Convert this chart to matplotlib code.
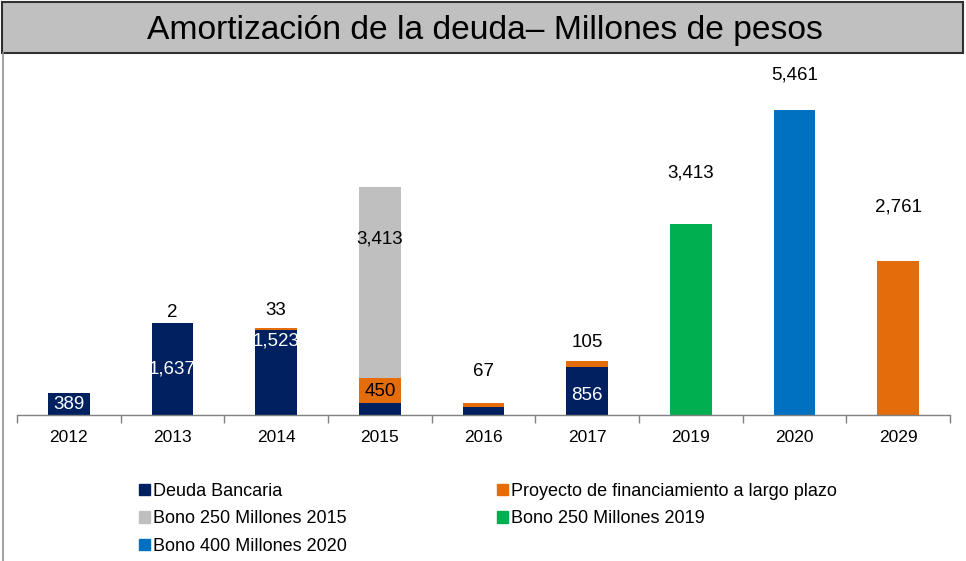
import matplotlib
matplotlib.use("Agg")
import matplotlib.pyplot as plt
from matplotlib.patches import Rectangle
from matplotlib.lines import Line2D
import numpy as np

plt.rcParams['font.family'] = ['Liberation Sans', 'DejaVu Sans']

# ---- data ----
years = ['2012', '2013', '2014', '2015', '2016', '2017', '2019', '2020', '2029']
deuda_bancaria = [389, 1637, 1523, 215, 150, 856, 0, 0, 0]
proyecto = [0, 2, 33, 450, 67, 105, 0, 0, 2761]
bono_2015 = [0, 0, 0, 3413, 0, 0, 0, 0, 0]
bono_2019 = [0, 0, 0, 0, 0, 0, 3413, 0, 0]
bono_2020 = [0, 0, 0, 0, 0, 0, 0, 5461, 0]

series_names = ['Deuda Bancaria', 'Proyecto de financiamiento a largo plazo',
                'Bono 250 Millones 2015', 'Bono 250 Millones 2019',
                'Bono 400 Millones 2020']

# ---- style ----
colors = ['#002060', '#E46C0A', '#BFBFBF', '#00B050', '#0070C0']
W, H = 966, 561
fig = plt.figure(figsize=(W / 100, H / 100), dpi=100)

ax_left, ax_right, ax_bottom, ax_top = 17, 950, 415, 60
ax = fig.add_axes([ax_left / W, 1 - ax_bottom / H, (ax_right - ax_left) / W,
                   (ax_bottom - ax_top) / H])

x = np.arange(len(years))
width = 0.405
all_series = [deuda_bancaria, proyecto, bono_2015, bono_2019, bono_2020]
bottoms = np.zeros(len(years))
bars = []
for vals, col, name in zip(all_series, colors, series_names):
    ax.bar(x, vals, width, bottom=bottoms, color=col, label=name, zorder=2)
    bars.append((np.array(vals, dtype=float), bottoms.copy()))
    bottoms = bottoms + np.array(vals, dtype=float)

ax.set_xlim(-0.5, len(years) - 0.5)
ax.set_ylim(0, 6350)
for s in ['top', 'right', 'left']:
    ax.spines[s].set_visible(False)
ax.spines['bottom'].set_color('#808080')
ax.spines['bottom'].set_linewidth(1.0)
ax.set_yticks([])
ax.set_xticks(x)
ax.set_xticklabels(years, fontsize=12.5)
ax.tick_params(axis='x', length=0, pad=11)
ax.set_xticks(np.arange(-0.5, len(years)), minor=True)
ax.tick_params(axis='x', which='minor', length=6, color='#808080', width=1)

# labels: (series index, category index, text color, pixel offset, placement)
label_specs = [
    (0, 0, 'white', 0, 'center'),
    (0, 1, 'white', 0, 'center'),
    (0, 2, 'white', 31, 'center'),
    (0, 5, 'white', -4, 'center'),
    (1, 3, 'black', -1, 'center'),
    (2, 3, 'black', 43, 'center'),
    (1, 1, 'black', 11, 'top'),
    (1, 2, 'black', 18, 'top'),
    (1, 4, 'black', 31, 'top'),
    (1, 5, 'black', 19, 'top'),
    (3, 6, 'black', 51, 'top'),
    (4, 7, 'black', 35, 'top'),
    (1, 8, 'black', 54, 'top'),
]
for si, ci, tc, dy, where in label_specs:
    vals, bots = bars[si]
    v = vals[ci]
    if where == 'center':
        yv = bots[ci] + v / 2
    else:
        yv = bots[ci] + v
    ax.annotate(f"{int(v):,}", (x[ci], yv), xytext=(0, dy),
                textcoords='offset pixels', ha='center', va='center',
                color=tc, fontsize=13.5, zorder=3)

# title box
fig.patches.append(Rectangle((2 / W, 1 - 53 / H), 961 / W, 51 / H,
                             transform=fig.transFigure, facecolor='#C0C0C0',
                             edgecolor='#303030', linewidth=1.5, zorder=0))
fig.add_artist(Line2D([2.5 / W, 2.5 / W], [0, 1 - 53 / H], color='#909090',
                      linewidth=1.2, transform=fig.transFigure))
fig.text(485 / W, 1 - 30 / H, 'Amortización de la deuda– Millones de pesos',
         ha='center', va='center', fontsize=24.2, color='black')

# legend
handles = [Rectangle((0, 0), 1, 1, color=c) for c in colors]
order = [0, 2, 4, 1, 3]
leg = fig.legend([handles[i] for i in order], [series_names[i] for i in order],
                 ncol=2, loc='upper left', bbox_to_anchor=(139 / W, 1 - 483 / H),
                 frameon=False, fontsize=13, handlelength=0.6, handleheight=0.6,
                 handletextpad=0.15, columnspacing=8.35, labelspacing=0.58,
                 borderaxespad=0, borderpad=0)

fig.savefig('out.png', dpi=100)
